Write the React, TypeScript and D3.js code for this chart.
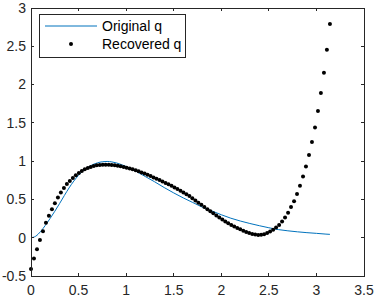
import React from 'react'
import * as d3 from 'd3'

// original q (t, value)
const originalT = [0, 0.05, 0.1, 0.15, 0.2, 0.25, 0.3, 0.35, 0.4, 0.45, 0.5, 0.55, 0.6, 0.65, 0.7, 0.75, 0.8, 0.85, 0.9, 0.95, 1.0,
	1.1, 1.2, 1.3, 1.4, 1.5, 1.6, 1.7, 1.8, 1.9, 2.0, 2.1, 2.2, 2.3, 2.4, 2.5, 2.6, 2.7, 2.8, 2.9, 3.0, 3.1, 3.1416]
const originalQ = [0, 0.02, 0.08, 0.16, 0.25, 0.345, 0.445, 0.55, 0.65, 0.74, 0.815, 0.875, 0.92, 0.955, 0.978, 0.992, 0.996, 0.99, 0.976, 0.955, 0.93,
	0.87, 0.8, 0.73, 0.655, 0.585, 0.52, 0.46, 0.4, 0.35, 0.3, 0.255, 0.218, 0.186, 0.157, 0.13, 0.106, 0.09, 0.077, 0.066, 0.057, 0.047, 0.044]

// recovered q samples (dots)
const recoveredT = [0, 0.031, 0.063, 0.094, 0.126, 0.157, 0.188, 0.22, 0.251, 0.283, 0.314, 0.346, 0.377, 0.408, 0.44, 0.471, 0.503, 0.534, 0.565, 0.597,
	0.628, 0.66, 0.691, 0.723, 0.754, 0.785, 0.817, 0.848, 0.88, 0.911, 0.942, 0.974, 1.005, 1.037, 1.068, 1.1, 1.131, 1.162, 1.194, 1.225,
	1.257, 1.288, 1.319, 1.351, 1.382, 1.414, 1.445, 1.477, 1.508, 1.539, 1.571, 1.602, 1.634, 1.665, 1.696, 1.728, 1.759, 1.791, 1.822, 1.854,
	1.885, 1.916, 1.948, 1.979, 2.011, 2.042, 2.073, 2.105, 2.136, 2.168, 2.199, 2.231, 2.262, 2.293, 2.325, 2.356, 2.388, 2.419, 2.45, 2.482,
	2.513, 2.545, 2.576, 2.608, 2.639, 2.67, 2.702, 2.733, 2.765, 2.796, 2.827, 2.859, 2.89, 2.922, 2.953, 2.985, 3.016, 3.047, 3.079, 3.11, 3.142]
const recoveredQ = [-0.41, -0.27, -0.15, -0.03, 0.086, 0.195, 0.286, 0.372, 0.45, 0.525, 0.59, 0.65, 0.7, 0.742, 0.78, 0.815, 0.846, 0.872, 0.893, 0.91,
	0.925, 0.937, 0.945, 0.95, 0.953, 0.954, 0.953, 0.95, 0.945, 0.94, 0.932, 0.924, 0.915, 0.905, 0.893, 0.88, 0.867, 0.853, 0.838, 0.822,
	0.805, 0.788, 0.771, 0.753, 0.735, 0.716, 0.697, 0.678, 0.657, 0.636, 0.614, 0.592, 0.569, 0.545, 0.515, 0.487, 0.458, 0.43, 0.4, 0.372,
	0.345, 0.318, 0.29, 0.263, 0.237, 0.212, 0.188, 0.166, 0.146, 0.127, 0.11, 0.092, 0.076, 0.062, 0.05, 0.041, 0.037, 0.038, 0.045, 0.06,
	0.082, 0.105, 0.133, 0.167, 0.212, 0.264, 0.325, 0.4, 0.477, 0.57, 0.68, 0.8, 0.93, 1.08, 1.25, 1.44, 1.654, 1.89, 2.156, 2.456, 2.79]

const xTicks = [0, 0.5, 1, 1.5, 2, 2.5, 3, 3.5]
const yTicks = [-0.5, 0, 0.5, 1, 1.5, 2, 2.5, 3]
const legendLabels = ['Original q', 'Recovered q']

const W = 374
const H = 299
const box = { left: 31, right: 364, top: 8, bottom: 276 }
const axisColor = '#262626'
const blue = '#0072BD'
const font = '"Liberation Sans", Arial, Helvetica, sans-serif'

export default function App() {
	const x = d3.scaleLinear().domain([0, 3.5]).range([box.left, box.right])
	const y = d3.scaleLinear().domain([-0.5, 3]).range([box.bottom, box.top])

	const original = originalT.map((t, i) => [t, originalQ[i]] as [number, number])
	const recovered = recoveredT.map((t, i) => [t, recoveredQ[i]] as [number, number])

	const line = d3
		.line<[number, number]>()
		.x(d => x(d[0]))
		.y(d => y(d[1]))
		.curve(d3.curveMonotoneX)

	const tick = 3.3
	const lg = { x: 39, y: 14, w: 146, h: 43 }

	return (
		<svg width={W} height={H} style={{ position: 'absolute', left: 0, top: 0, background: '#fff' }} fontFamily={font}>
			<rect x={0} y={0} width={W} height={H} fill="#fff" />

			{/* data */}
			<path d={line(original) || ''} fill="none" stroke={blue} strokeWidth={1} />
			{recovered.map((d, i) => (
				<circle key={i} cx={x(d[0])} cy={y(d[1])} r={2} fill="#000" />
			))}

			{/* frame + ticks */}
			<rect x={box.left} y={box.top} width={box.right - box.left} height={box.bottom - box.top}
				fill="none" stroke={axisColor} strokeWidth={1} shapeRendering="crispEdges" />
			{xTicks.map(t => (
				<g key={'x' + t} stroke={axisColor} shapeRendering="crispEdges">
					<line x1={x(t)} x2={x(t)} y1={box.bottom} y2={box.bottom - tick} />
					<line x1={x(t)} x2={x(t)} y1={box.top} y2={box.top + tick} />
				</g>
			))}
			{yTicks.map(t => (
				<g key={'y' + t} stroke={axisColor} shapeRendering="crispEdges">
					<line x1={box.left} x2={box.left + tick} y1={y(t)} y2={y(t)} />
					<line x1={box.right} x2={box.right - tick} y1={y(t)} y2={y(t)} />
				</g>
			))}
			{xTicks.map(t => (
				<text key={'xl' + t} x={x(t)} y={box.bottom + 19} textAnchor="middle" fontSize={14} fill={axisColor}>
					{String(t)}
				</text>
			))}
			{yTicks.map(t => (
				<text key={'yl' + t} x={box.left - 5} y={y(t)} dy="0.35em" textAnchor="end" fontSize={14} fill={axisColor}>
					{String(t)}
				</text>
			))}

			{/* legend */}
			<rect x={lg.x} y={lg.y} width={lg.w} height={lg.h} fill="#fff" stroke={axisColor} strokeWidth={1} shapeRendering="crispEdges" />
			<line x1={lg.x + 6} x2={lg.x + 58} y1={lg.y + 12} y2={lg.y + 12} stroke={blue} strokeWidth={1} />
			<circle cx={lg.x + 32} cy={lg.y + 30} r={2} fill="#000" />
			{legendLabels.map((s, i) => (
				<text key={s} x={lg.x + 63} y={lg.y + 12 + i * 18} dy="0.35em" fontSize={14} fill="#000">
					{s}
				</text>
			))}
		</svg>
	)
}
